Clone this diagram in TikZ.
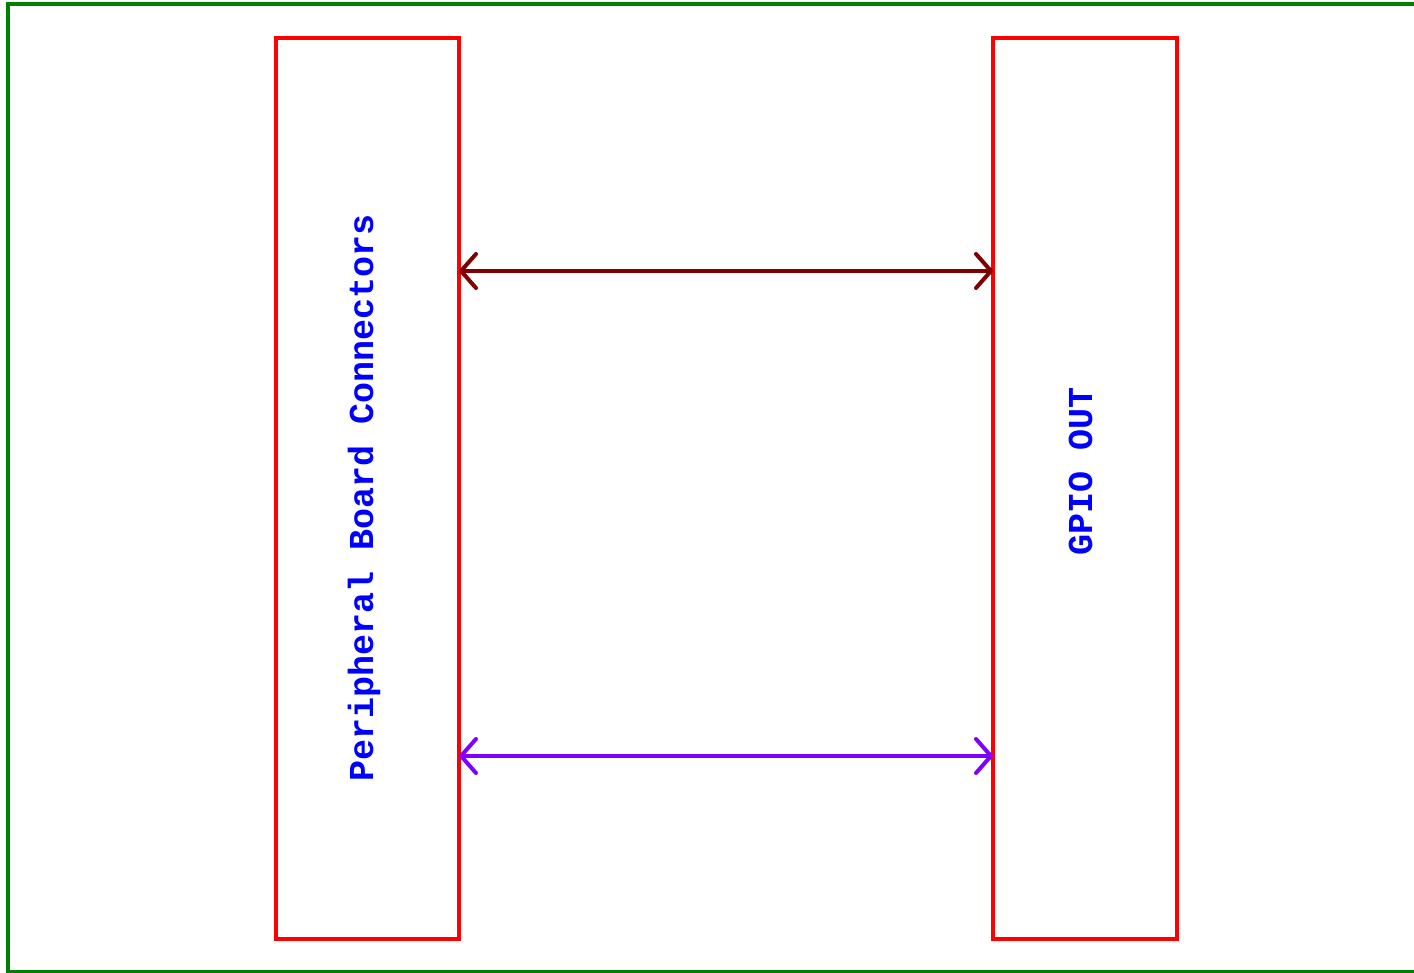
\documentclass[tikz,border=0pt]{standalone}
\usepackage{fontspec}
\newfontfamily\monob{Liberation Mono}
\usetikzlibrary{arrows.meta}
\definecolor{frameg}{RGB}{0,128,0}
\definecolor{boxred}{RGB}{255,0,0}
\definecolor{txtblue}{RGB}{0,0,255}
\definecolor{arrdark}{RGB}{128,0,0}
\definecolor{arrpurple}{RGB}{128,0,255}
\tikzset{
  blockbox/.style={draw=boxred, line width=4pt, rectangle, inner sep=0pt, outer sep=0pt},
  blocklabel/.style={text=txtblue, rotate=90, inner sep=0pt, outer sep=0pt, font=\monob\bfseries\fontsize{35}{42}\selectfont},
  link/.style={line width=4pt, {Straight Barb[length=15pt,width=34pt,round]}-{Straight Barb[length=15pt,width=34pt,round]}}
}
\begin{document}
\begin{tikzpicture}[x=1pt,y=-1pt]
\useasboundingbox (0,0) rectangle (1414,973);
\fill[white] (0,0) rectangle (1414,973);
\draw[frameg, line width=4pt] (8,4) rectangle (1430,972);
\node[blockbox, minimum width=183pt, minimum height=901pt] (L) at (367.5,488.5) {};
\node[blockbox, minimum width=184pt, minimum height=901pt] (R) at (1085,488.5) {};
\node[blocklabel] (Lt) at (364,498) {Peripheral Board Connectors};
\node[blocklabel] (Rt) at (1080.5,471) {GPIO OUT};
\coordinate (y1) at (0,271);
\coordinate (y2) at (0,756);
\draw[link, arrdark] (L.east |- y1) -- (R.west |- y1);
\draw[link, arrpurple] (L.east |- y2) -- (R.west |- y2);
\end{tikzpicture}
\end{document}
